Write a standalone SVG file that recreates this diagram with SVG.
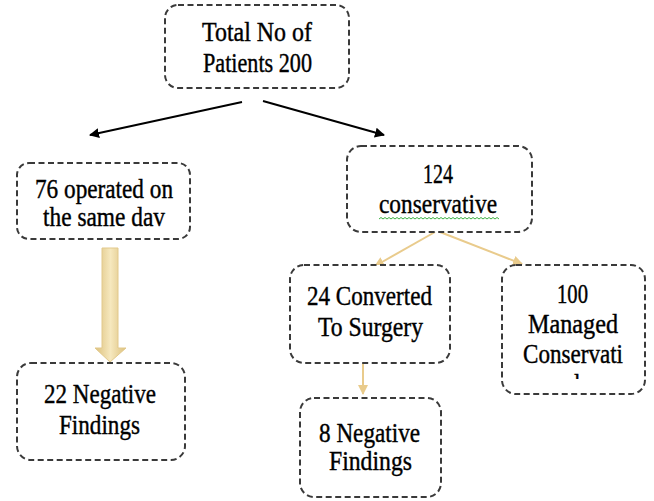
<svg xmlns="http://www.w3.org/2000/svg" width="654" height="501" viewBox="0 0 654 501">
<style>
.box{fill:#fff;stroke:#3a3a3a;stroke-width:2;stroke-dasharray:6 3.5}
text{font-family:'Liberation Serif','Times New Roman',serif;font-size:27px;fill:#000;text-anchor:middle;stroke:#000;stroke-width:0.4}
.blk{stroke:#000;stroke-width:2;fill:none}
.yel{stroke:#e9cb8c;stroke-width:2;fill:none}
</style>
<defs>
<marker id="ab" viewBox="0 0 10 10" refX="9" refY="5" markerWidth="10" markerHeight="10" markerUnits="userSpaceOnUse" orient="auto"><path d="M0,0 L10,5 L0,10 z" fill="#000"/></marker>
<marker id="ay" viewBox="0 0 10 10" refX="9" refY="5" markerWidth="10" markerHeight="10" markerUnits="userSpaceOnUse" orient="auto"><path d="M0,0 L10,5 L0,10 z" fill="#e9cb8c"/></marker>
<linearGradient id="shaft" x1="0" y1="0" x2="1" y2="0">
<stop offset="0" stop-color="#dcc07c"/><stop offset="0.5" stop-color="#f6e8be"/><stop offset="1" stop-color="#dcc07c"/>
</linearGradient>
<clipPath id="clip5"><rect x="503" y="266" width="141" height="113"/></clipPath>
</defs>

<g id="connectors">
<line class="blk" x1="242" y1="102" x2="90" y2="135" marker-end="url(#ab)"/>
<line class="blk" x1="263" y1="101" x2="384" y2="135" marker-end="url(#ab)"/>
<line class="yel" x1="435" y1="232" x2="375" y2="266" marker-end="url(#ay)"/>
<line class="yel" x1="440" y1="232" x2="522" y2="264" marker-end="url(#ay)"/>
<line class="yel" x1="363" y1="347" x2="363" y2="394" marker-end="url(#ay)"/>
<path d="M102,248 L118,248 L118,348 L126,348 L110,362 L95,348 L102,348 Z" fill="url(#shaft)" stroke="#e2c98c" stroke-width="1"/>
</g>

<g id="node-total">
<rect class="box" x="165" y="5" width="184" height="83" rx="13"/>
<text x="257" y="41" textLength="110" lengthAdjust="spacingAndGlyphs">Total No of</text>
<text x="257.5" y="72" textLength="109" lengthAdjust="spacingAndGlyphs">Patients 200</text>
</g>

<g id="node-operated">
<rect class="box" x="17" y="163" width="173" height="76" rx="12"/>
<text x="104" y="198" textLength="138" lengthAdjust="spacingAndGlyphs">76 operated on</text>
<text x="104" y="226" textLength="122" lengthAdjust="spacingAndGlyphs">the same dav</text>
</g>

<g id="node-conservative">
<rect class="box" x="347" y="146" width="185" height="86" rx="14"/>
<text x="438" y="183" textLength="30" lengthAdjust="spacingAndGlyphs">124</text>
<text x="438" y="213" textLength="118" lengthAdjust="spacingAndGlyphs">conservative</text>
<path d="M379,219 l2,-1.5 l2,1.5 l2,-1.5 l2,1.5 l2,-1.5 l2,1.5 l2,-1.5 l2,1.5 l2,-1.5 l2,1.5 l2,-1.5 l2,1.5 l2,-1.5 l2,1.5 l2,-1.5 l2,1.5 l2,-1.5 l2,1.5 l2,-1.5 l2,1.5 l2,-1.5 l2,1.5 l2,-1.5 l2,1.5 l2,-1.5 l2,1.5 l2,-1.5 l2,1.5 l2,-1.5 l2,1.5 l2,-1.5 l2,1.5 l2,-1.5 l2,1.5 l2,-1.5 l2,1.5 l2,-1.5 l2,1.5 l2,-1.5 l2,1.5 l2,-1.5 l2,1.5 l2,-1.5 l2,1.5 l2,-1.5 l2,1.5 l2,-1.5 l2,1.5 l2,-1.5 l2,1.5 l2,-1.5 l2,1.5 l2,-1.5 l2,1.5 l2,-1.5 l2,1.5 l2,-1.5 l2,1.5 l2,-1.5 l2,1.5" fill="none" stroke="#3cb043" stroke-width="1"/>
</g>

<g id="node-converted">
<rect class="box" x="290" y="265" width="160" height="98" rx="14"/>
<text x="369.5" y="305" textLength="125" lengthAdjust="spacingAndGlyphs">24 Converted</text>
<text x="370.5" y="336" textLength="105" lengthAdjust="spacingAndGlyphs">To Surgery</text>
</g>

<g id="node-managed">
<rect class="box" x="502" y="265" width="143" height="129" rx="14"/>
<text x="572.5" y="303" textLength="31" lengthAdjust="spacingAndGlyphs">100</text>
<text x="573" y="333" textLength="90" lengthAdjust="spacingAndGlyphs">Managed</text>
<text x="573" y="363" textLength="100" lengthAdjust="spacingAndGlyphs">Conservati</text>
<text x="572" y="393" textLength="40" lengthAdjust="spacingAndGlyphs" clip-path="url(#clip5)">vely</text>
</g>

<g id="node-neg8">
<rect class="box" x="300" y="398" width="141" height="99" rx="14"/>
<text x="369.5" y="442" textLength="101" lengthAdjust="spacingAndGlyphs">8 Negative</text>
<text x="370.5" y="470" textLength="83" lengthAdjust="spacingAndGlyphs">Findings</text>
</g>

<g id="node-neg22">
<rect class="box" x="17" y="363" width="168" height="97" rx="14"/>
<text x="100" y="403" textLength="112" lengthAdjust="spacingAndGlyphs">22 Negative</text>
<text x="99.5" y="434" textLength="81" lengthAdjust="spacingAndGlyphs">Findings</text>
</g>
</svg>
